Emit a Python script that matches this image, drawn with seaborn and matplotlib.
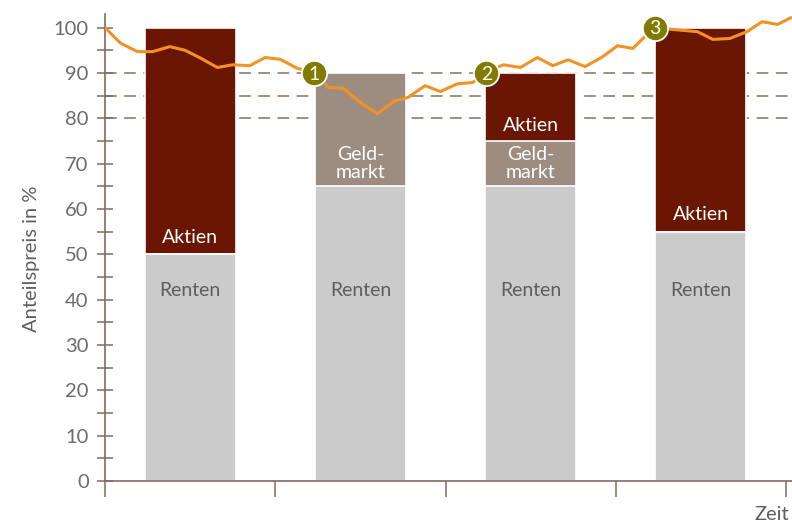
"""
Anteilspreis chart: stacked asset allocation bars with price line and rebalancing markers
"""

import numpy as np
import pandas as pd
import matplotlib
matplotlib.use("Agg")
import matplotlib.pyplot as plt
import seaborn as sns

# Data
bar_pos = [0.5, 1.5, 2.5, 3.5]
renten = [50, 65, 65, 55]
geldmarkt = [0, 25, 10, 0]
aktien = [50, 0, 15, 45]

zeit = [0.00, 0.09, 0.19, 0.28, 0.38, 0.47, 0.56, 0.66, 0.75, 0.85,
        0.94, 1.03, 1.13, 1.23, 1.31, 1.40, 1.51, 1.60, 1.70, 1.78,
        1.88, 1.97, 2.07, 2.16, 2.24, 2.34, 2.44, 2.54, 2.63, 2.72,
        2.82, 2.92, 3.01, 3.10, 3.23, 3.33, 3.48, 3.57, 3.67, 3.77,
        3.86, 3.95, 4.03]
preis = [100.0, 96.6, 94.7, 94.7, 95.8, 95.0, 93.3, 91.2, 91.8, 91.6,
         93.4, 93.0, 91.0, 90.2, 86.8, 86.6, 83.2, 81.0, 83.8, 84.6,
         87.2, 85.9, 87.6, 87.9, 90.2, 91.8, 91.2, 93.4, 91.6, 92.9,
         91.4, 93.5, 96.0, 95.4, 100.2, 99.6, 99.1, 97.4, 97.6, 99.1,
         101.3, 100.7, 102.2]

marker_x = [1.23, 2.24, 3.23]
marker_y = [90, 90, 100]
marker_labels = ["1", "2", "3"]

schwellen = [80, 85, 90]

# Colours
c_aktien = "#6a1602"
c_geld = "#9d8d80"
c_renten = "#cbcbcb"
c_line = "#f39224"
c_marker = "#817b00"
c_axis = "#7d6d5d"
c_text = "#5e5e5e"

sns.set_style("white")
plt.rcParams["font.family"] = ["Lato", "DejaVu Sans"]

fig = plt.figure(figsize=(7.92, 5.23), dpi=100)
ax = fig.add_axes([105 / 792, 42 / 523, 687 / 792, 467 / 523])

# Threshold lines
for s in schwellen:
    ax.axhline(s, color="#8c7b6b", lw=1.2, ls=(0, (7, 4.5)), zorder=0.5)

# Stacked bars: draw cumulative totals from top layer down
df = pd.DataFrame({"pos": bar_pos, "renten": renten,
                   "geld": geldmarkt, "aktien": aktien})
df["cum_renten"] = df["renten"]
df["cum_geld"] = df["cum_renten"] + df["geld"]
df["cum_aktien"] = df["cum_geld"] + df["aktien"]

for col, color in [("cum_aktien", c_aktien), ("cum_geld", c_geld),
                   ("cum_renten", c_renten)]:
    sns.barplot(data=df, x="pos", y=col, native_scale=True, color=color,
                width=0.535, edgecolor="white", linewidth=1.2, saturation=1,
                ax=ax, zorder=1)

# Price line
sns.lineplot(x=zeit, y=preis, color=c_line, lw=2.2, ax=ax, zorder=3)

# Markers
ax.scatter(marker_x, marker_y, s=330, color=c_marker, edgecolor="white",
           linewidth=1.3, zorder=4, clip_on=False)
for mx, my, lab in zip(marker_x, marker_y, marker_labels):
    ax.text(mx, my - 0.3, lab, color="white", fontsize=14, ha="center",
            va="center", zorder=5)

# Segment labels
fs = 14
for i, p in enumerate(bar_pos):
    ax.text(p, 42, "Renten", color=c_text, fontsize=fs, ha="center", va="center")
ax.text(bar_pos[0], 53.6, "Aktien", color="white", fontsize=fs, ha="center", va="center")
ax.text(bar_pos[1], 70.0, "Geld-\nmarkt", color="white", fontsize=fs, ha="center",
        va="center", linespacing=1.1)
ax.text(bar_pos[2], 78.4, "Aktien", color="white", fontsize=fs, ha="center", va="center")
ax.text(bar_pos[2], 70.0, "Geld-\nmarkt", color="white", fontsize=fs, ha="center",
        va="center", linespacing=1.1)
ax.text(bar_pos[3], 58.7, "Aktien", color="white", fontsize=fs, ha="center", va="center")

# Axes styling
ax.set_xlim(0, 4.035)
ax.set_ylim(0, 103)
ax.set_xticks([0, 1, 2, 3, 4])
ax.set_xticklabels([])
ax.set_yticks(np.arange(0, 101, 10))
ax.set_yticks(np.arange(5, 100, 10), minor=True)
ax.tick_params(axis="x", bottom=True, direction="out", length=11.5, width=1.1,
               color=c_axis)
ax.tick_params(axis="y", which="both", left=True, direction="inout", length=11.5,
               width=1.1, color=c_axis, labelsize=14.5, labelcolor="#6b6b6b", pad=6)
ax.set_xlabel("")
ax.set_ylabel("")
sns.despine(ax=ax)
for side in ["left", "bottom"]:
    ax.spines[side].set_color(c_axis)
    ax.spines[side].set_linewidth(1.2)

fig.text(32 / 792, 0.505, "Anteilspreis in %", rotation=90, ha="center",
         va="center", fontsize=14.5, color=c_text)
fig.text(772 / 792, 1 - 514 / 523, "Zeit", ha="center", va="center",
         fontsize=14.5, color=c_text)

fig.savefig("out.png", dpi=100)
